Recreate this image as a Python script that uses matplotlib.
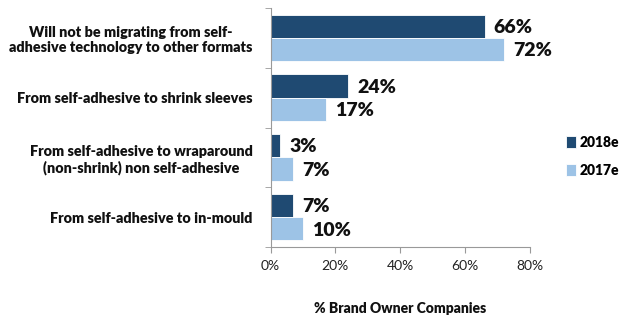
import numpy as np
import matplotlib.pyplot as plt
from matplotlib.ticker import FixedLocator, PercentFormatter

categories = [
    "Will not be migrating from self-\nadhesive technology to other formats",
    "From self-adhesive to shrink sleeves",
    "From self-adhesive to wraparound\n(non-shrink) non self-adhesive",
    "From self-adhesive to in-mould",
]
vals_2018 = [66, 24, 3, 7]
vals_2017 = [72, 17, 7, 10]
series_names = ["2018e", "2017e"]

plt.rcParams['font.family'] = ['Lato', 'DejaVu Sans']

fig = plt.figure(figsize=(6.22, 3.2), dpi=100)
ax = fig.add_axes([0.435, 0.228, 0.417, 0.747])

y = np.arange(len(categories))
h = 0.39
dark = '#1f4a72'
light = '#9dc3e6'
b1 = ax.barh(y - h / 2, vals_2018, height=h, color=dark, edgecolor='white', linewidth=0.6, label=series_names[0])
b2 = ax.barh(y + h / 2, vals_2017, height=h, color=light, edgecolor='white', linewidth=0.6, label=series_names[1])

for bars, vals in [(b1, vals_2018), (b2, vals_2017)]:
    for bar, v in zip(bars, vals):
        ax.text(v + 2.8, bar.get_y() + bar.get_height() / 2 + 0.02, f"{v}%",
                va='center', ha='left', fontsize=14, fontweight='heavy', color='#111111')

ax.set_ylim(len(categories) - 0.5, -0.5)
ax.set_xlim(0, 80)
ax.set_xticks([0, 20, 40, 60, 80])
ax.xaxis.set_major_formatter(PercentFormatter(decimals=0))
ax.set_yticks(y)
ax.set_yticklabels(categories, fontsize=10.4, fontweight='heavy', color='#111111',
                   multialignment='center')
ax.yaxis.set_minor_locator(FixedLocator(np.arange(-0.5, len(categories), 1)))
ax.tick_params(axis='y', which='major', length=0, pad=13)
ax.tick_params(axis='y', which='minor', length=4, color='#999999')
ax.tick_params(axis='x', length=4, color='#999999', labelsize=10, labelcolor='#222222', pad=5)

for s in ['top', 'right']:
    ax.spines[s].set_visible(False)
for s in ['left', 'bottom']:
    ax.spines[s].set_color('#999999')

ax.set_xlabel('% Brand Owner Companies', fontsize=10, fontweight='heavy', labelpad=22, color='#111111')

ax.legend(loc='center left', bbox_to_anchor=(1.09, 0.38), frameon=False,
          prop={'size': 10, 'weight': 'heavy'}, handlelength=0.7, handleheight=1.0,
          handletextpad=0.3, labelspacing=1.1)

fig.savefig('out.png', dpi=100)
